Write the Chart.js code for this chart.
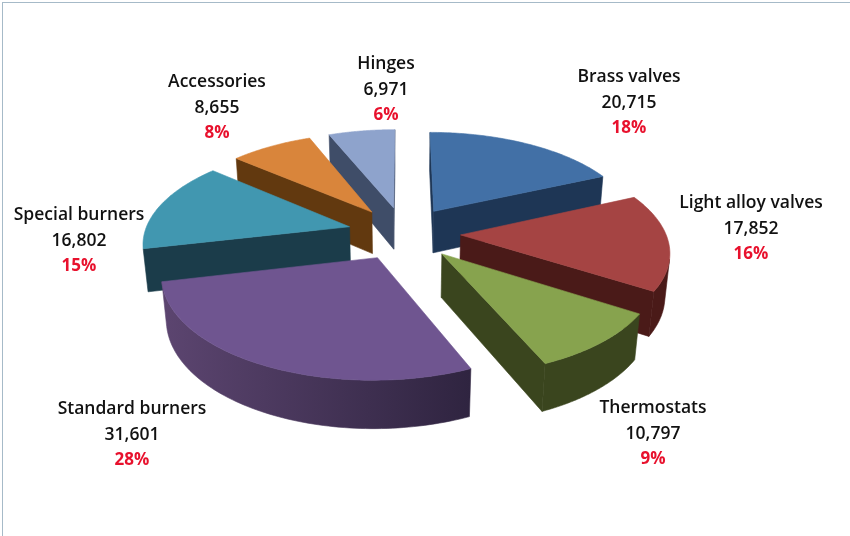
<!DOCTYPE html>
<html>
<head>
<meta charset="utf-8">
<style>
  html, body { margin: 0; padding: 0; background: #fff; overflow: hidden; }
  #frame { position: absolute; left: 2px; top: 2px; width: 860px; height: 560px; border-left: 1px solid #a6bac8; border-top: 1px solid #a6bac8; }
  canvas { position: absolute; left: 0; top: 0; }
</style>
<script src="https://cdn.jsdelivr.net/npm/chart.js@4"></script>
</head>
<body>
<canvas id="pieChart" width="850" height="536"></canvas>
<div id="frame"></div>
<script>
const categories = ["Brass valves", "Light alloy valves", "Thermostats", "Standard burners", "Special burners", "Accessories", "Hinges"];
const values = [20715, 17852, 10797, 31601, 16802, 8655, 6971];
const percents = ["18%", "16%", "9%", "28%", "15%", "8%", "6%"];
const explode = [65, 65, 65, 65, 65, 65, 65];

const topColors = ['#4270a6', '#a54443', '#87a34e', '#6f5590', '#4197b0', '#d9853b', '#8ea3cc'];
const wallColors = ['#1e3655', '#4a1a18', '#3a451e', '#5c4570', '#1b3c4a', '#62390f', '#3f4d68'];
const wallEndColors = ['#1e3655', '#4a1a18', '#3a451e', '#2f2440', '#1b3c4a', '#62390f', '#3f4d68'];
const cutColors = ['#1e3655', '#4a1a18', '#3a451e', '#2f2440', '#1b3c4a', '#62390f', '#3f4d68'];

// label centre for each slice, in page pixels
const labelX = [629, 751, 653, 132, 79, 217, 386];
const labelY = [77, 203, 408, 409, 215, 82, 64];
const lineGap = 25.7;

const centerX = 404, centerY = 233;
const pieRadius = 205, pieDepth = 49;
const tilt = 0.49, camDist = 6 * pieRadius;

function project(u, v, h) {
  const s = camDist / (camDist - (v * Math.cos(tilt) + h * Math.sin(tilt)));
  return [centerX + u * s, centerY + (v * Math.sin(tilt) - h * Math.cos(tilt)) * s];
}

function fillPoly(ctx, pts, color) {
  ctx.beginPath();
  pts.forEach((p, i) => i ? ctx.lineTo(p[0], p[1]) : ctx.moveTo(p[0], p[1]));
  ctx.closePath();
  ctx.fillStyle = color;
  ctx.strokeStyle = color;
  ctx.lineWidth = 0.6;
  ctx.fill();
  ctx.stroke();
}

// camera position in pie coordinates, to skip faces turned away
const camV = camDist * Math.cos(tilt);
function facing(px, py, nx, ny) {
  return (0 - px) * nx + (camV - py) * ny > 0;
}

const pie3d = {
  id: 'pie3d',
  beforeDatasetsDraw(chart) {
    const ctx = chart.ctx;
    const arcs = chart.getDatasetMeta(0).data;
    const slices = arcs.map((arc, i) => {
      const k = pieRadius / arc.outerRadius;
      const mid = (arc.startAngle + arc.endAngle) / 2;
      const off = arc.options.offset * k;
      return {
        i, start: arc.startAngle, end: arc.endAngle,
        ax: Math.cos(mid) * off, ay: Math.sin(mid) * off,
        sortKey: Math.sin(mid) * (off + pieRadius * 0.5)
      };
    }).sort((a, b) => a.sortKey - b.sortKey);

    slices.forEach(sl => {
      const rim = a => [sl.ax + Math.cos(a) * pieRadius, sl.ay + Math.sin(a) * pieRadius];
      const steps = 80;

      // cut faces
      [[sl.start, Math.sin(sl.start), -Math.cos(sl.start)], [sl.end, -Math.sin(sl.end), Math.cos(sl.end)]].forEach(f => {
        if (!facing(sl.ax, sl.ay, f[1], f[2])) return;
        const r = rim(f[0]);
        fillPoly(ctx, [project(sl.ax, sl.ay, 0), project(r[0], r[1], 0), project(r[0], r[1], -pieDepth), project(sl.ax, sl.ay, -pieDepth)], cutColors[sl.i]);
      });

      // outer wall as one shape, shaded along the rim
      const upper = [], lower = [];
      for (let s = 0; s <= steps; s++) {
        const a = sl.start + (sl.end - sl.start) * s / steps;
        const p = rim(a);
        if (!facing(p[0], p[1], Math.cos(a), Math.sin(a))) continue;
        upper.push(project(p[0], p[1], 0));
        lower.unshift(project(p[0], p[1], -pieDepth));
      }
      if (upper.length > 1) {
        const last = upper[upper.length - 1];
        const grad = ctx.createLinearGradient(upper[0][0], 0, last[0], 0);
        grad.addColorStop(0, wallEndColors[sl.i]);
        grad.addColorStop(1, wallColors[sl.i]);
        fillPoly(ctx, upper.concat(lower), grad);
      }

      // top
      const top = [project(sl.ax, sl.ay, 0)];
      for (let s = 0; s <= steps; s++) {
        const r = rim(sl.start + (sl.end - sl.start) * s / steps);
        top.push(project(r[0], r[1], 0));
      }
      fillPoly(ctx, top, topColors[sl.i]);
    });

    // labels
    ctx.textAlign = 'center';
    ctx.textBaseline = 'middle';
    categories.forEach((name, i) => {
      ctx.font = '600 17.5px "Open Sans"';
      ctx.fillStyle = '#111';
      ctx.fillText(name, labelX[i], labelY[i]);
      ctx.fillText(values[i].toLocaleString('en-US'), labelX[i], labelY[i] + lineGap);
      ctx.font = '700 17px "Open Sans"';
      ctx.fillStyle = '#e8112d';
      ctx.fillText(percents[i], labelX[i], labelY[i] + lineGap * 2);
    });
    return false;
  }
};

new Chart(document.getElementById('pieChart').getContext('2d'), {
  type: 'pie',
  data: {
    labels: categories,
    datasets: [{ data: values, offset: explode, backgroundColor: topColors, borderWidth: 0 }]
  },
  options: {
    responsive: false,
    animation: false,
    plugins: { legend: { display: false }, tooltip: { enabled: false } }
  },
  plugins: [pie3d]
});
</script>
</body>
</html>
